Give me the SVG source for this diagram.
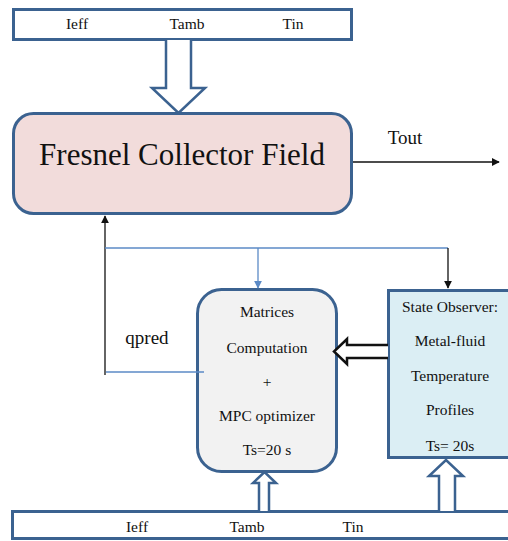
<svg xmlns="http://www.w3.org/2000/svg" width="508" height="541" viewBox="0 0 508 541">
  <defs>
    <style>
      .box { stroke: #3b6290; stroke-width: 3; }
      .lbl { font-family: "Liberation Serif", "Times New Roman", serif; fill: #111; text-anchor: middle; font-size: 15.5px; }
      .big { font-size: 19px; }
      .blk { fill: #fff; stroke: #3b6290; stroke-width: 2.5; stroke-linejoin: miter; }
      .wire-k { fill: none; stroke: #111; stroke-width: 1.3; }
      .wire-b { fill: none; stroke: #5b8ac6; stroke-width: 1.3; }
    </style>
    <marker id="ahK" viewBox="0 0 10 10" refX="9" refY="5" markerWidth="8" markerHeight="8" markerUnits="userSpaceOnUse" orient="auto">
      <path d="M0,0 L10,5 L0,10 Z" fill="#111"/>
    </marker>
    <marker id="ahB" viewBox="0 0 10 10" refX="9" refY="5" markerWidth="8" markerHeight="8" markerUnits="userSpaceOnUse" orient="auto">
      <path d="M0,0 L10,5 L0,10 Z" fill="#5b8ac6"/>
    </marker>
  </defs>

  <!-- top input bar -->
  <g id="inputs-top">
    <rect class="box" x="13.5" y="9.5" width="338" height="30" fill="#fff"/>
    <text class="lbl" x="77" y="29">Ieff</text>
    <text class="lbl" x="187" y="29">Tamb</text>
    <text class="lbl" x="293" y="29">Tin</text>
  </g>

  <!-- collector field -->
  <g id="fresnel">
    <rect class="box" x="13.5" y="113.5" width="338" height="100" rx="20" fill="#f2dcdb"/>
    <text class="lbl" x="182" y="165" style="font-size:31px">Fresnel Collector Field</text>
  </g>

  <!-- MPC block -->
  <g id="mpc">
    <rect class="box" x="197.5" y="289.5" width="139" height="182" rx="24" fill="#f2f2f2"/>
    <text class="lbl" x="267" y="317">Matrices</text>
    <text class="lbl" x="267" y="353">Computation</text>
    <text class="lbl" x="267" y="387">+</text>
    <text class="lbl" x="267" y="421">MPC optimizer</text>
    <text class="lbl" x="267" y="455">Ts=20 s</text>
  </g>

  <!-- state observer -->
  <g id="observer">
    <rect class="box" x="388.5" y="290.5" width="124" height="167" fill="#dbeef4"/>
    <text class="lbl" x="450" y="312">State Observer:</text>
    <text class="lbl" x="450" y="346">Metal-fluid</text>
    <text class="lbl" x="450" y="381">Temperature</text>
    <text class="lbl" x="450" y="415">Profiles</text>
    <text class="lbl" x="450" y="451">Ts= 20s</text>
  </g>

  <!-- bottom input bar -->
  <g id="inputs-bottom">
    <rect class="box" x="12.5" y="511.5" width="510" height="27" fill="#fff"/>
    <text class="lbl" x="137" y="532">Ieff</text>
    <text class="lbl" x="247" y="532">Tamb</text>
    <text class="lbl" x="353" y="532">Tin</text>
  </g>

  <!-- connectors -->
  <g id="connectors">
    <!-- block arrow: inputs into collector field -->
    <path class="blk" d="M166,40 L166,88 L152,88 L178.5,113 L205,88 L191,88 L191,40"/>
    <!-- Tout -->
    <line class="wire-k" x1="353" y1="162" x2="499" y2="162" marker-end="url(#ahK)"/>
    <text class="lbl big" x="405" y="144">Tout</text>
    <!-- qpred feedback -->
    <line class="wire-b" x1="106" y1="372" x2="204" y2="372"/>
    <line class="wire-k" x1="105" y1="375" x2="105" y2="216" marker-end="url(#ahK)"/>
    <text class="lbl big" x="147" y="344">qpred</text>
    <!-- measurement distribution -->
    <line class="wire-b" x1="105" y1="248" x2="448" y2="248"/>
    <line class="wire-b" x1="258" y1="248" x2="258" y2="288" marker-end="url(#ahB)"/>
    <line class="wire-k" x1="448" y1="248" x2="448" y2="288" marker-end="url(#ahK)"/>
    <!-- observer states into MPC -->
    <path d="M388,345 L347,345 L347,339 L334,351.5 L347,364 L347,358 L388,358" fill="#fff" stroke="#111" stroke-width="2.5"/>
    <!-- inputs into MPC -->
    <path class="blk" d="M259,511 L259,483 L253,483 L264.5,472 L276,483 L269,483 L269,511"/>
    <!-- inputs into observer -->
    <path class="blk" d="M439,511 L439,476 L429,476 L446,460 L463,476 L455,476 L455,511"/>
  </g>
</svg>
